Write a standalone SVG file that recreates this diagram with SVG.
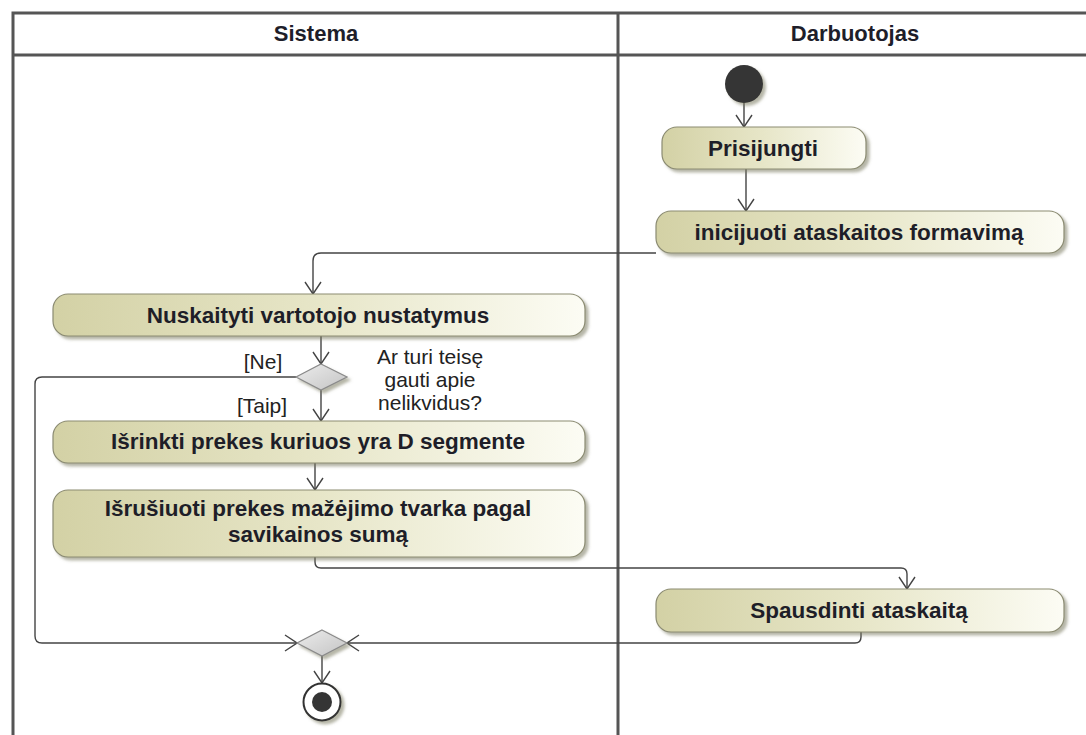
<svg xmlns="http://www.w3.org/2000/svg" width="1086" height="735" viewBox="0 0 1086 735">
  <defs>
    <linearGradient id="actFill" x1="0" y1="0" x2="1" y2="0">
      <stop offset="0" stop-color="#d3d1a5"/>
      <stop offset="0.5" stop-color="#e7e6c8"/>
      <stop offset="1" stop-color="#fcfcf4"/>
    </linearGradient>
    <linearGradient id="decFill" x1="0" y1="0" x2="1" y2="1">
      <stop offset="0" stop-color="#ececec"/>
      <stop offset="1" stop-color="#c4c4c4"/>
    </linearGradient>
    <filter id="shadow" x="-10%" y="-20%" width="130%" height="160%">
      <feDropShadow dx="3" dy="3" stdDeviation="1.8" flood-color="#7a7a60" flood-opacity="0.55"/>
    </filter>
    <marker id="arrow" viewBox="0 0 14 18" refX="13" refY="9" markerWidth="14" markerHeight="18" markerUnits="userSpaceOnUse" orient="auto">
      <path d="M1,1 L13,9 L1,17" fill="none" stroke="#444" stroke-width="1.4"/>
    </marker>
    <style>
      .lane { fill: none; stroke: #555; stroke-width: 3; }
      .head { font-family: "Liberation Sans", Arial, sans-serif; font-weight: bold; font-size: 22px; fill: #1e1e2a; text-anchor: middle; }
      .act rect { fill: url(#actFill); stroke: #8b8b72; stroke-width: 1.2; filter: url(#shadow); }
      .act text { font-family: "Liberation Sans", Arial, sans-serif; font-weight: bold; font-size: 22.5px; fill: #1e1e28; text-anchor: middle; }
      .dec polygon { fill: url(#decFill); stroke: #8a8a8a; stroke-width: 1.2; filter: url(#shadow); }
      .lbl { font-family: "Liberation Sans", Arial, sans-serif; font-size: 21px; fill: #222; text-anchor: middle; }
      .conn path { fill: none; stroke: #444; stroke-width: 1.4; marker-end: url(#arrow); }
    </style>
  </defs>

  <rect width="1086" height="735" fill="#ffffff"/>

  <!-- swimlane frame -->
  <g id="lanes">
    <path class="lane" d="M13,735 V13 H1086"/>
    <path class="lane" d="M13,55 H1086"/>
    <path class="lane" d="M618,13 V735"/>
    <text class="head" x="316" y="41">Sistema</text>
    <text class="head" x="855" y="41">Darbuotojas</text>
  </g>

  <!-- connectors -->
  <g id="connectors" class="conn">
    <path d="M744,103 V127"/>
    <path d="M746,169 V211"/>
    <path d="M656,253 H321 Q313,253 313,261 V294"/>
    <path d="M321,336 V364"/>
    <path d="M321,390 V421"/>
    <path d="M315,462 V490"/>
    <path d="M296,377 H42 Q35,377 35,384 V636 Q35,643 42,643 H297"/>
    <path d="M315,557 V562 Q315,568 321,568 H901 Q907,568 907,574 V589"/>
    <path d="M861,632 V637 Q861,643 855,643 H347"/>
    <path d="M322,656 V683"/>
  </g>

  <!-- initial node -->
  <g id="start">
    <circle cx="744" cy="84" r="19" fill="#353535" filter="url(#shadow)"/>
  </g>

  <g id="prisijungti" class="act">
    <rect x="662" y="127" width="204" height="42" rx="15"/>
    <text x="763" y="156">Prisijungti</text>
  </g>

  <g id="inicijuoti" class="act">
    <rect x="656" y="211" width="408" height="42" rx="15"/>
    <text x="859" y="240">inicijuoti ataskaitos formavimą</text>
  </g>

  <g id="nuskaityti" class="act">
    <rect x="53" y="294" width="532" height="42" rx="15"/>
    <text x="318" y="323">Nuskaityti vartotojo nustatymus</text>
  </g>

  <g id="teise" class="dec">
    <polygon points="321,364 347,377 321,390 296,377"/>
    <text class="lbl" x="263" y="369">[Ne]</text>
    <text class="lbl" x="262" y="413">[Taip]</text>
    <text class="lbl" x="430" y="364">Ar turi teisę</text>
    <text class="lbl" x="430" y="387">gauti apie</text>
    <text class="lbl" x="430" y="410">nelikvidus?</text>
  </g>

  <g id="isrinkti" class="act">
    <rect x="53" y="421" width="532" height="42" rx="15"/>
    <text x="318" y="449">Išrinkti prekes kuriuos yra D segmente</text>
  </g>

  <g id="isrusiuoti" class="act">
    <rect x="53" y="490" width="532" height="67" rx="15"/>
    <text x="318" y="516">Išrušiuoti prekes mažėjimo tvarka pagal</text>
    <text x="318" y="542">savikainos sumą</text>
  </g>

  <g id="spausdinti" class="act">
    <rect x="656" y="589" width="408" height="43" rx="15"/>
    <text x="859" y="618">Spausdinti ataskaitą</text>
  </g>

  <g id="merge" class="dec">
    <polygon points="322,630 347,643 322,656 297,643"/>
  </g>

  <!-- final node -->
  <g id="end">
    <circle cx="322" cy="702" r="18.5" fill="#ffffff" stroke="#333" stroke-width="2" filter="url(#shadow)"/>
    <circle cx="322" cy="702" r="10" fill="#353535"/>
  </g>
</svg>
